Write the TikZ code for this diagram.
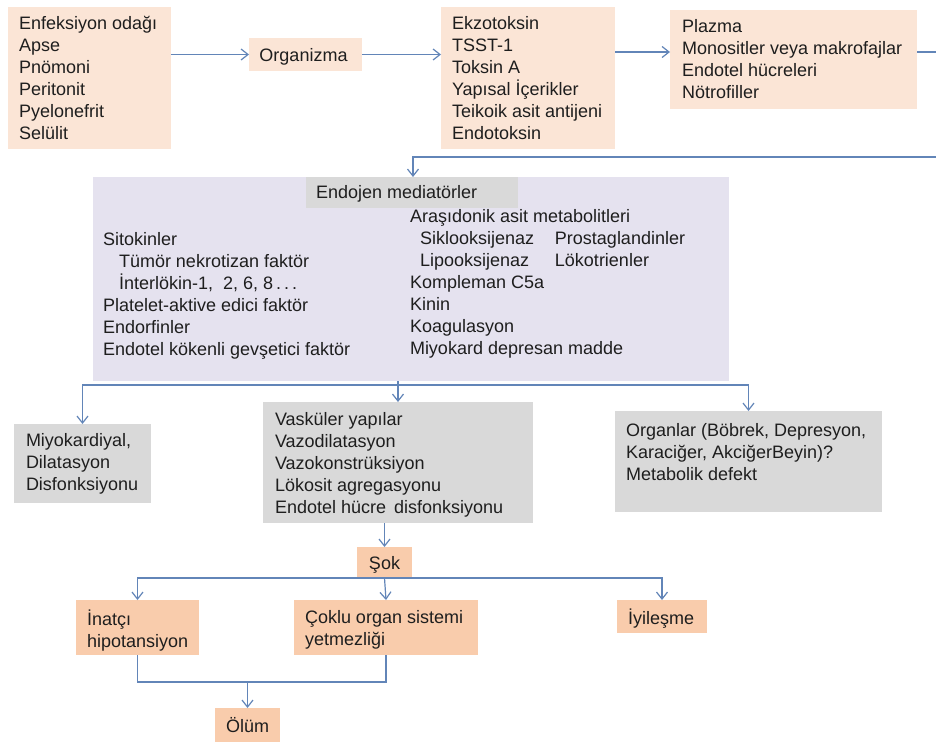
\documentclass[tikz,border=0pt]{standalone}
\usepackage{fontspec}
\setmainfont{Liberation Sans}
\usetikzlibrary{arrows.meta,calc}
\definecolor{peachL}{RGB}{251,229,214}
\definecolor{peachD}{RGB}{249,204,172}
\definecolor{grayB}{RGB}{217,217,217}
\definecolor{lav}{RGB}{229,226,239}
\definecolor{lineC}{RGB}{98,133,184}
\definecolor{txtc}{RGB}{30,30,30}
\begin{document}
\begin{tikzpicture}[x=1pt,y=-1pt,
  box/.style={anchor=north west, inner sep=0pt, outer sep=0pt, draw=none},
  txt/.style={inner sep=0pt, outer sep=0pt, align=left, text=txtc,
    font=\fontsize{18}{22}\selectfont, yshift=-3pt,
    execute at begin node=\strut, execute at end node=\strut},
  conn/.style={draw=lineC, line width=1.2pt},
  arr/.style={conn, -{Straight Barb[length=7pt,width=11pt]}}]
\path[fill=white, use as bounding box] (0,0) rectangle (936,742);

% top row
\node[box, fill=peachL, minimum width=163pt, minimum height=142pt] (b1) at (8,7) {};
\node[txt, anchor=west] (t1) at ($(b1.west)+(11,0)$) {Enfeksiyon odağı\\Apse\\Pnömoni\\Peritonit\\Pyelonefrit\\Selülit};
\node[box, fill=peachL, minimum width=113pt, minimum height=33pt] (b2) at (249,38) {};
\node[txt] (t2) at ($(b2.center)+(-2,0)$) {Organizma};
\node[box, fill=peachL, minimum width=174pt, minimum height=142pt] (b3) at (441,7) {};
\node[txt, anchor=west] (t3) at ($(b3.west)+(11,0)$) {Ekzotoksin\\TSST-1\\Toksin A\\Yapısal İçerikler\\Teikoik asit antijeni\\Endotoksin};
\node[box, fill=peachL, minimum width=247pt, minimum height=99pt] (b4) at (670,10) {};
\node[txt, anchor=west] (t4) at ($(b4.west)+(12,0)$) {Plazma\\Monositler veya makrofajlar\\Endotel hücreleri\\Nötrofiller};

% mediators
\node[box, fill=lav, minimum width=636pt, minimum height=204pt] (med) at (93,177) {};
\node[box, fill=grayB, minimum width=212pt, minimum height=31pt] (hdr) at (306,177) {};
\node[txt, anchor=west] (th) at ($(hdr.west)+(10,-1)$) {Endojen mediatörler};
\node[txt, anchor=north west] (tl) at (103,229) {Sitokinler\\
\hspace*{16pt}Tümör nekrotizan faktör\\
\hspace*{16pt}İnterlökin-1,\ \ 2, 6, 8\,.\,.\,.\\
Platelet-aktive edici faktör\\
Endorfinler\\
Endotel kökenli gevşetici faktör};
\node[txt, anchor=north west] (tr) at (410,206) {Araşıdonik asit metabolitleri\\
\hspace*{10pt}\makebox[135pt][l]{Siklooksijenaz}Prostaglandinler\\
\hspace*{10pt}\makebox[135pt][l]{Lipooksijenaz}Lökotrienler\\
Kompleman C5a\\
Kinin\\
Koagulasyon\\
Miyokard depresan madde};

% second level
\node[box, fill=grayB, minimum width=137pt, minimum height=79pt] (miyo) at (14,424) {};
\node[txt, anchor=west] (tmiyo) at ($(miyo.west)+(12,-1)$) {Miyokardiyal,\\Dilatasyon\\Disfonksiyonu};
\node[box, fill=grayB, minimum width=270pt, minimum height=121pt] (vask) at (263,402) {};
\node[txt, anchor=west] (tvask) at ($(vask.west)+(12,1)$) {Vasküler yapılar\\Vazodilatasyon\\Vazokonstrüksiyon\\Lökosit agregasyonu\\Endotel hücre\ \,disfonksiyonu};
\node[box, fill=grayB, minimum width=267pt, minimum height=101pt] (organ) at (615,411) {};
\node[txt, anchor=north west] (torgan) at ($(organ.north west)+(11,9)$) {Organlar (Böbrek, Depresyon,\\Karaciğer, AkciğerBeyin)?\\Metabolik defekt};

% shock and outcomes
\node[box, fill=peachD, minimum width=55pt, minimum height=31pt] (sok) at (357,547) {};
\node[txt] (tsok) at (sok.center) {Şok};
\node[box, fill=peachD, minimum width=123pt, minimum height=55pt] (inat) at (76,600) {};
\node[txt, anchor=west] (tinat) at ($(inat.west)+(11,1)$) {İnatçı\\hipotansiyon};
\node[box, fill=peachD, minimum width=184pt, minimum height=55pt] (coklu) at (294,600) {};
\node[txt, anchor=west] (tcoklu) at ($(coklu.west)+(11,1)$) {Çoklu organ sistemi\\yetmezliği};
\node[box, fill=peachD, minimum width=90pt, minimum height=33pt] (iyi) at (617,600) {};
\node[txt, anchor=west] (tiyi) at ($(iyi.west)+(11,0)$) {İyileşme};
\node[box, fill=peachD, minimum width=65pt, minimum height=34pt] (olum) at (215,708) {};
\node[txt] (tolum) at ($(olum.center)+(0,0)$) {Ölüm};

% connectors
\draw[arr] (b1.east |- b2.west) -- (b2.west);
\draw[arr] (b2.east) -- (b2.east -| b3.west);
\coordinate (r1) at (640,52);
\draw[arr] (b3.east |- r1) -- (b4.west |- r1);
\coordinate (r2) at (950,52);
\coordinate (r3) at (950,157);
\coordinate (r4) at (413,157);
\draw[arr] (b4.east |- r1) -- (r2) -- (r3) -- (r4) -- (r4 |- med.north);

\coordinate (hub) at (398,385);
\draw[conn] (med.south -| hub) -- (hub);
\draw[arr] (hub) -| (miyo.north);
\draw[arr] (hub) -- (vask.north);
\draw[arr] (hub) -| (organ.north);

\draw[arr] (vask.south -| sok.north) -- (sok.north);
\draw[arr] (sok.south) -| (inat.north);
\draw[arr] (sok.south) -- (coklu.north);
\draw[arr] (sok.south) -| (iyi.north);

\coordinate (join) at (247.5,682);
\draw[conn] (inat.south) |- (join) -| (coklu.south);
\draw[arr] (join) -- (olum.north);
\end{tikzpicture}
\end{document}
